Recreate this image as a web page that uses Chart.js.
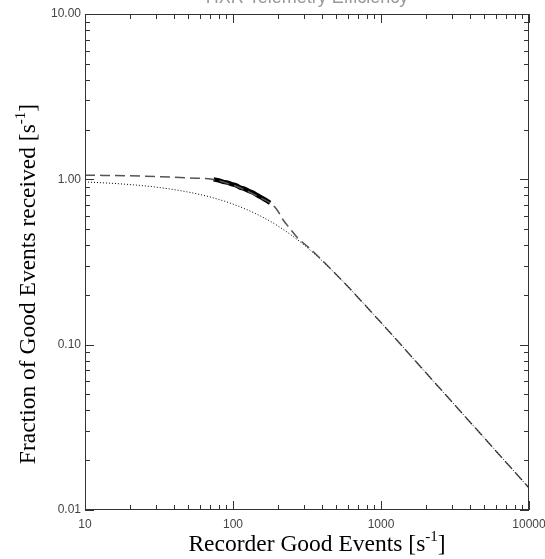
<!DOCTYPE html>
<html>
<head>
<meta charset="utf-8">
<script src="https://cdn.jsdelivr.net/npm/chart.js@4.4.1/dist/chart.umd.min.js"></script>
<style>
  html, body { margin: 0; padding: 0; background: #fff; }
  canvas { display: block; }
</style>
</head>
<body>
<canvas id="efficiency" width="545" height="559"></canvas>
<script>
// dead-time model: fraction received vs recorder rate
const modelRate = [10, 15, 20, 30, 50, 70, 100, 150, 200, 300, 500, 1000, 2000, 5000, 10000];
const modelFraction = [0.964, 0.947, 0.930, 0.898, 0.837, 0.782, 0.708, 0.606, 0.524, 0.403, 0.265, 0.136, 0.068, 0.0272, 0.0136];

// expected curve (dashed)
const expectedRate = [10, 20, 30, 50, 72, 90, 118, 150, 178, 197, 219, 243, 269, 331, 500, 1000, 2000, 5000, 10000];
const expectedFraction = [1.06, 1.05, 1.04, 1.02, 1.0, 0.95, 0.87, 0.78, 0.72, 0.66, 0.566, 0.503, 0.449, 0.381, 0.265, 0.136, 0.068, 0.0272, 0.0136];

// measured points
const measRate = [74, 80, 86, 92, 98, 105, 112, 120, 128, 137, 146, 156, 166, 178];
const measFraction = [1.0, 0.985, 0.965, 0.955, 0.935, 0.92, 0.89, 0.875, 0.85, 0.83, 0.8, 0.775, 0.75, 0.72];

const xDecades = [10, 100, 1000, 10000];
const yDecades = [0.01, 0.1, 1, 10];

const titleText = "HXR Telemetry Efficiency";
const xTitle = "Recorder Good Events [s";
const yTitle = "Fraction of Good Events received [s";

const toPoints = (xs, ys) => xs.map((x, i) => ({ x: x, y: ys[i] }));
const isDecade = (v) => Math.abs(Math.log10(v) - Math.round(Math.log10(v))) < 1e-6;

// box frame with inward major/minor ticks on all four sides
const frameTicks = {
  id: "frameTicks",
  afterDatasetsDraw(chart) {
    const { ctx, chartArea: a, scales } = chart;
    const xs = scales.x, ys = scales.y;
    ctx.save();
    ctx.strokeStyle = "#333";
    ctx.lineWidth = 1;
    ctx.strokeRect(a.left + 0.5, a.top + 0.5, a.right - a.left - 1, a.bottom - a.top - 1);
    ctx.beginPath();
    xDecades.forEach((d) => {
      for (let m = 1; m <= 9; m++) {
        const v = d * m;
        if (v > 10000) break;
        const px = Math.round(xs.getPixelForValue(v)) + 0.5;
        const len = m === 1 ? 9 : 5;
        ctx.moveTo(px, a.bottom); ctx.lineTo(px, a.bottom - len);
        ctx.moveTo(px, a.top); ctx.lineTo(px, a.top + len);
      }
    });
    yDecades.forEach((d) => {
      for (let m = 1; m <= 9; m++) {
        const v = d * m;
        if (v > 10.0001) break;
        const py = Math.round(ys.getPixelForValue(v)) + 0.5;
        const len = m === 1 ? 9 : 5;
        ctx.moveTo(a.left, py); ctx.lineTo(a.left + len, py);
        ctx.moveTo(a.right, py); ctx.lineTo(a.right - len, py);
      }
    });
    ctx.stroke();
    ctx.restore();
  },
  afterDraw(chart) {
    const { ctx, chartArea: a } = chart;
    ctx.save();
    // plot title, partly off the top edge
    ctx.fillStyle = "#999";
    ctx.font = "18px 'Liberation Sans', Arial, sans-serif";
    ctx.textAlign = "center";
    ctx.textBaseline = "alphabetic";
    ctx.fillText(titleText, (a.left + a.right) / 2, 3);

    // axis titles with superscript -1
    const big = "23.5px 'Liberation Serif', 'Times New Roman', serif";
    const small = "15px 'Liberation Serif', 'Times New Roman', serif";
    const drawTitle = (text, cx, cy) => {
      ctx.font = big;
      const w1 = ctx.measureText(text).width;
      const w3 = ctx.measureText("]").width;
      ctx.font = small;
      const w2 = ctx.measureText("-1").width;
      const x = cx - (w1 + w2 + w3) / 2;
      ctx.textAlign = "left";
      ctx.font = big;
      ctx.fillText(text, x, cy);
      ctx.fillText("]", x + w1 + w2, cy);
      ctx.font = small;
      ctx.fillText("-1", x + w1, cy - 10);
    };
    ctx.fillStyle = "#000";
    drawTitle(xTitle, 317, 551);
    ctx.save();
    ctx.translate(35, 284);
    ctx.rotate(-Math.PI / 2);
    drawTitle(yTitle, 0, 0);
    ctx.restore();
    ctx.restore();
  }
};

const tickFont = { family: "'Liberation Sans', Arial, sans-serif", size: 12 };

new Chart(document.getElementById("efficiency").getContext("2d"), {
  type: "line",
  data: {
    datasets: [
      {
        label: "model",
        data: toPoints(modelRate, modelFraction),
        borderColor: "#000",
        borderWidth: 1,
        borderDash: [1, 2],
        pointRadius: 0,
        cubicInterpolationMode: "monotone",
        fill: false,
      },
      {
        label: "expected",
        data: toPoints(expectedRate, expectedFraction),
        borderColor: "#555",
        borderWidth: 1.5,
        borderDash: [10, 5],
        pointRadius: 0,
        cubicInterpolationMode: "monotone",
        fill: false,
      },
      {
        label: "measured",
        data: toPoints(measRate, measFraction),
        borderColor: "#000",
        borderWidth: 4.5,
        pointRadius: 0,
        tension: 0,
        fill: false,
      },
    ],
  },
  options: {
    responsive: false,
    animation: false,
    layout: { padding: { top: 14, right: 16, left: 0, bottom: 0 } },
    plugins: {
      legend: false,
      tooltip: { enabled: false },
    },
    scales: {
      x: {
        type: "logarithmic",
        min: 10,
        max: 10000,
        grid: { display: false, drawTicks: false },
        border: { display: false },
        ticks: {
          autoSkip: false,
          maxRotation: 0,
          padding: 7,
          color: "#444",
          font: tickFont,
          callback: (v) => (isDecade(v) ? String(Math.round(v)) : ""),
        },
        afterFit: (s) => { s.height = 49; s.paddingLeft = 0; s.paddingRight = 0; },
      },
      y: {
        type: "logarithmic",
        min: 0.01,
        max: 10,
        grid: { display: false, drawTicks: false },
        border: { display: false },
        ticks: {
          autoSkip: false,
          padding: 4,
          color: "#444",
          font: tickFont,
          callback: (v) => (isDecade(v) ? v.toFixed(2) : ""),
        },
        afterFit: (s) => { s.width = 85; s.paddingTop = 0; s.paddingBottom = 0; },
      },
    },
  },
  plugins: [frameTicks],
});
</script>
</body>
</html>
